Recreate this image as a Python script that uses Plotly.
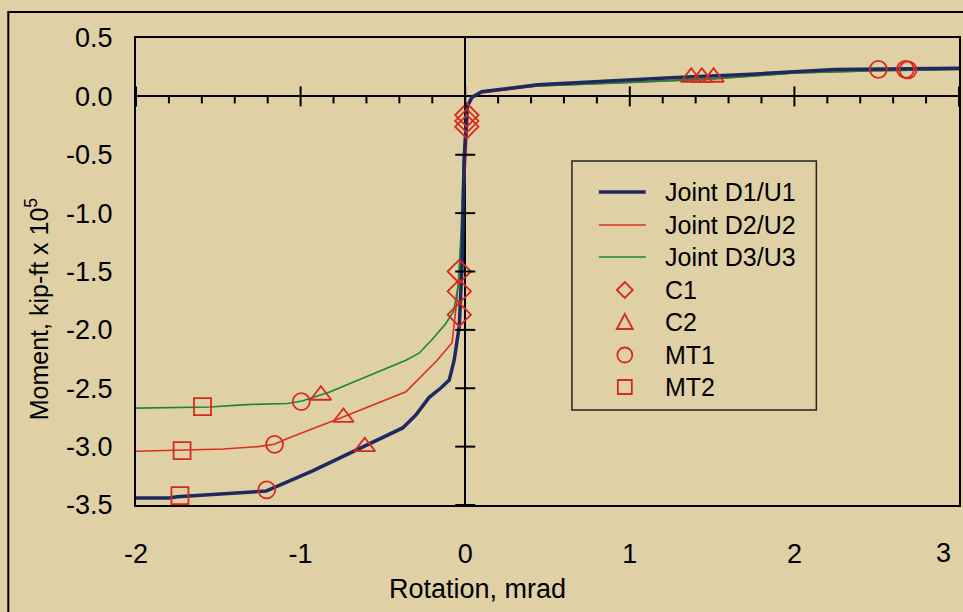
import plotly.graph_objects as go

# ---------------- data ----------------
d1_x = [-2.0, -1.8, -1.75, -1.55, -1.38, -1.21, -0.93, -0.62, -0.38, -0.30, -0.22, -0.15,
        -0.097, -0.067, -0.036, -0.018, -0.006, 0.012, 0.024, 0.04, 0.1, 0.22, 0.44,
        0.99, 1.25, 1.74, 1.99, 2.25, 3.0]
d1_y = [-3.44, -3.44, -3.43, -3.41, -3.40, -3.38, -3.21, -3.0, -2.84, -2.73, -2.58, -2.50,
        -2.43, -2.26, -1.97, -1.40, -0.54, -0.09, -0.06, -0.01, 0.04, 0.06, 0.10,
        0.14, 0.16, 0.19, 0.21, 0.23, 0.24]

d2_x = [-2.0, -1.47, -1.26, -1.16, -1.08, -0.75, -0.36, -0.17, -0.08, -0.05, -0.018,
        0.006, 0.02, 0.05, 0.1, 0.22, 0.44, 1.0, 1.5, 2.0, 2.5, 3.0]
d2_y = [-3.04, -3.02, -3.0, -2.98, -2.93, -2.75, -2.53, -2.26, -2.11, -1.74, -1.12,
        -0.40, -0.08, 0.0, 0.03, 0.05, 0.09, 0.12, 0.15, 0.20, 0.22, 0.23]

d3_x = [-2.0, -1.55, -1.33, -1.08, -0.99, -0.82, -0.36, -0.28, -0.20, -0.12, -0.07,
        -0.04, -0.024, -0.012, 0.01, 0.04, 0.1, 0.22, 0.44, 1.0, 1.5, 2.0, 2.5, 3.0]
d3_y = [-2.67, -2.66, -2.64, -2.63, -2.61, -2.53, -2.26, -2.20, -2.08, -1.95, -1.84,
        -1.60, -1.12, -0.55, -0.08, 0.0, 0.045, 0.06, 0.09, 0.12, 0.15, 0.20, 0.22, 0.23]

c1_x = [0.01, 0.01, 0.01, -0.036, -0.036, -0.036]
c1_y = [-0.16, -0.21, -0.26, -1.50, -1.67, -1.87]

c2_x = [-0.877, -0.74, -0.61, 1.373, 1.438, 1.509]
c2_y = [-2.56, -2.75, -3.0, 0.164, 0.164, 0.164]

mt1_x = [-0.996, -1.158, -1.206, 2.51, 2.675, 2.69]
mt1_y = [-2.615, -2.98, -3.37, 0.232, 0.232, 0.227]

mt2_x = [-1.596, -1.72, -1.733]
mt2_y = [-2.658, -3.035, -3.42]

legend_labels = ["Joint D1/U1", "Joint D2/U2", "Joint D3/U3", "C1", "C2", "MT1", "MT2"]

x_major = [-2, -1, 0, 1, 2, 3]
x_ticktext = ["-2", "-1", "0", "1", "2"]
x_minor = [-1.8, -1.6, -1.4, -1.2, -0.8, -0.6, -0.4, -0.2, 0.2, 0.4, 0.6, 0.8,
           1.2, 1.4, 1.6, 1.8, 2.2, 2.4, 2.6, 2.8]
y_ticks = [0.5, 0.0, -0.5, -1.0, -1.5, -2.0, -2.5, -3.0, -3.5]
y_ticktext = ["0.5", "0.0", "-0.5", "-1.0", "-1.5", "-2.0", "-2.5", "-3.0", "-3.5"]
y_cross = [-0.5, -1.0, -1.5, -2.0, -2.5, -3.0, -3.5]

# ---------------- style ----------------
BG = "#DFD0A6"
NAVY = "#1F2860"
RED = "#DD2E20"
GREEN = "#17883A"
MRED = "#D62A1E"
FONT = "Liberation Sans, Arial, Helvetica, sans-serif"

W, H = 963, 612
ML, MR, MT, MB = 136, 2, 38, 107
PW, PH = W - ML - MR, H - MT - MB


def px(x):
    return (x - ML) / PW


def py(y):
    return (H - MB - y) / PH


fig = go.Figure()

fig.add_trace(go.Scatter(x=d2_x, y=d2_y, mode="lines", line=dict(color=RED, width=1.6)))
fig.add_trace(go.Scatter(x=d3_x, y=d3_y, mode="lines", line=dict(color=GREEN, width=1.6)))
fig.add_trace(go.Scatter(x=d1_x, y=d1_y, mode="lines", line=dict(color=NAVY, width=3.5)))

mk = dict(color=MRED, line=dict(color=MRED, width=1.8))
fig.add_trace(go.Scatter(x=c1_x, y=c1_y, mode="markers",
                         marker=dict(symbol="diamond-open", size=18, **mk)))
fig.add_trace(go.Scatter(x=c2_x, y=c2_y, mode="markers",
                         marker=dict(symbol="triangle-up-open", size=18, **mk)))
fig.add_trace(go.Scatter(x=mt1_x, y=mt1_y, mode="markers",
                         marker=dict(symbol="circle-open", size=17, **mk)))
fig.add_trace(go.Scatter(x=mt2_x, y=mt2_y, mode="markers",
                         marker=dict(symbol="square-open", size=17, **mk)))

shapes = []
# ticks on the x axis line (y = 0)
for t in x_minor:
    shapes.append(dict(type="line", xref="x", x0=t, x1=t, yref="y", ysizemode="pixel",
                       yanchor=0, y0=-7, y1=0, line=dict(color="black", width=2)))
for t in x_major:
    shapes.append(dict(type="line", xref="x", x0=t, x1=t, yref="y", ysizemode="pixel",
                       yanchor=0, y0=-10, y1=10, line=dict(color="black", width=2)))
# ticks on the y axis line (x = 0)
for t in y_cross:
    shapes.append(dict(type="line", yref="y", y0=t, y1=t, xref="x", xsizemode="pixel",
                       xanchor=0, x0=-10, x1=10, line=dict(color="black", width=2)))

# outer frame
shapes.append(dict(type="rect", xref="paper", yref="paper", x0=px(8), x1=px(1200),
                   y0=py(900), y1=py(12), line=dict(color="black", width=2)))

# legend box
shapes.append(dict(type="rect", xref="paper", yref="paper", x0=px(573), x1=px(818),
                   y0=py(410), y1=py(161), line=dict(color="#222", width=1.5),
                   fillcolor=BG))

rows = [192, 225, 257, 290, 322, 355, 387]
line_styles = [(NAVY, 3.5), (RED, 1.6), (GREEN, 1.6)]
for i, (c, w) in enumerate(line_styles):
    shapes.append(dict(type="line", xref="paper", yref="paper", x0=px(600), x1=px(647),
                       y0=py(rows[i]), y1=py(rows[i]), line=dict(color=c, width=w)))
cx = 626
# diamond
r = rows[3]
shapes.append(dict(type="path", xref="paper", yref="paper",
                   path=f"M{px(cx-8)},{py(r)} L{px(cx)},{py(r-8)} L{px(cx+8)},{py(r)} L{px(cx)},{py(r+8)} Z",
                   line=dict(color=MRED, width=1.8)))
# triangle
r = rows[4]
shapes.append(dict(type="path", xref="paper", yref="paper",
                   path=f"M{px(cx-8)},{py(r+7)} L{px(cx)},{py(r-8)} L{px(cx+8)},{py(r+7)} Z",
                   line=dict(color=MRED, width=1.8)))
# circle
r = rows[5]
shapes.append(dict(type="circle", xref="paper", yref="paper", x0=px(cx-7.5), x1=px(cx+7.5),
                   y0=py(r+7.5), y1=py(r-7.5), line=dict(color=MRED, width=1.8)))
# square
r = rows[6]
shapes.append(dict(type="rect", xref="paper", yref="paper", x0=px(cx-7), x1=px(cx+7),
                   y0=py(r+7), y1=py(r-7), line=dict(color=MRED, width=1.8)))

annotations = []
for i, lab in enumerate(legend_labels):
    annotations.append(dict(xref="paper", yref="paper", x=px(664), y=py(rows[i]),
                            xanchor="left", yanchor="middle", text=lab, showarrow=False,
                            font=dict(size=25, color="black", family=FONT)))
# last x tick label ("3") sits at the right edge, nudged inward
annotations.append(dict(xref="x", yref="paper", x=x_major[-1], y=0, xanchor="center",
                        yanchor="middle", xshift=-16, yshift=-48, text=str(x_major[-1]),
                        showarrow=False, font=dict(size=27, color="black", family=FONT)))
# axis titles
annotations.append(dict(xref="paper", yref="paper", x=px(37), y=py(309), xanchor="center",
                        yanchor="middle", textangle=-90,
                        text="Moment, kip-ft x 10<sup>5</sup>", showarrow=False,
                        font=dict(size=25, color="black", family=FONT)))
annotations.append(dict(xref="paper", yref="paper", x=px(478), y=py(589), xanchor="center",
                        yanchor="middle", text="Rotation, mrad", showarrow=False,
                        font=dict(size=27, color="black", family=FONT)))

fig.update_layout(
    width=W, height=H,
    margin=dict(l=ML, r=MR, t=MT, b=MB),
    paper_bgcolor=BG, plot_bgcolor=BG,
    font=dict(family=FONT, size=27, color="black"),
    showlegend=False,
    shapes=shapes,
    annotations=annotations,
    xaxis=dict(range=[-2, 3], showgrid=False, zeroline=True, zerolinecolor="black",
               zerolinewidth=2, showline=True, mirror=True, linecolor="black", linewidth=2,
               ticks="", tickvals=x_major[:-1], ticktext=x_ticktext,
               ticklabelstandoff=24),
    yaxis=dict(range=[-3.5, 0.5], showgrid=False, zeroline=True, zerolinecolor="black",
               zerolinewidth=2, showline=True, mirror=True, linecolor="black", linewidth=2,
               ticks="", tickvals=y_ticks, ticktext=y_ticktext, ticklabelstandoff=16),
)

fig.write_html("out.html")
